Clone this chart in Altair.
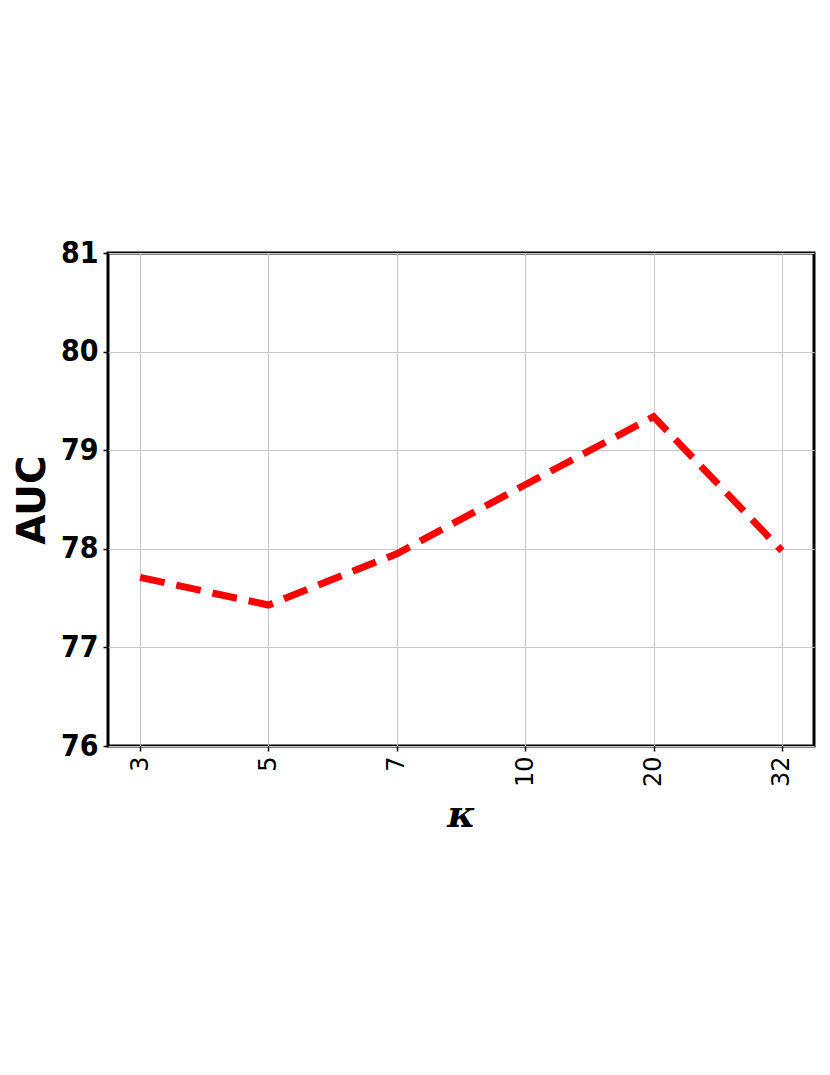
import altair as alt
import pandas as pd

kappa = ["3", "5", "7", "10", "20", "32"]
auc = [77.71, 77.43, 77.95, 78.65, 79.34, 77.98]
y_ticks = [76, 77, 78, 79, 80, 81]

df = pd.DataFrame({"k": kappa, "auc": auc})

chart = alt.Chart(df).mark_line(
    color="#ff0000", strokeWidth=7, strokeDash=[25, 12], strokeCap="butt"
).encode(
    x=alt.X("k:N", sort=kappa,
            scale=alt.Scale(type="point", padding=0.25),
            axis=alt.Axis(title="κ", labelAngle=-90, labelFontSize=24,
                          labelFont="DejaVu Sans", labelColor="black",
                          labelPadding=5, tickSize=5, tickWidth=1.5, tickColor="black",
                          domain=False, grid=True, gridColor="#c8c8c8", gridWidth=1,
                          titleFont="DejaVu Serif", titleFontStyle="italic",
                          titleFontWeight="bold", titleFontSize=38, titleColor="black",
                          titleX=353, titleY=69, titleBaseline="middle", titleAlign="center")),
    y=alt.Y("auc:Q", scale=alt.Scale(domain=[76, 81], nice=False, zero=False),
            axis=alt.Axis(title="AUC", values=y_ticks, format="d",
                          labelFontSize=30, labelFont="DejaVu Sans Condensed, DejaVu Sans",
                          labelFontWeight="bold", labelColor="black", labelPadding=5,
                          tickSize=5, tickWidth=1.5, tickColor="black",
                          domain=False, grid=True, gridColor="#c8c8c8", gridWidth=1,
                          titleFont="DejaVu Sans", titleFontWeight="bold",
                          titleFontSize=39, titleColor="black", titleAngle=270,
                          titleX=-76, titleY=246.5, titleBaseline="middle",
                          titleAlign="center")),
).properties(
    width=706, height=493,
    autosize=alt.AutoSizeParams(type="none"),
    padding={"left": 100, "top": 245, "right": 8, "bottom": 250},
).configure_view(
    stroke="black", strokeWidth=3
)

chart.save("out.html", embed_options={"renderer": "svg", "actions": False})
